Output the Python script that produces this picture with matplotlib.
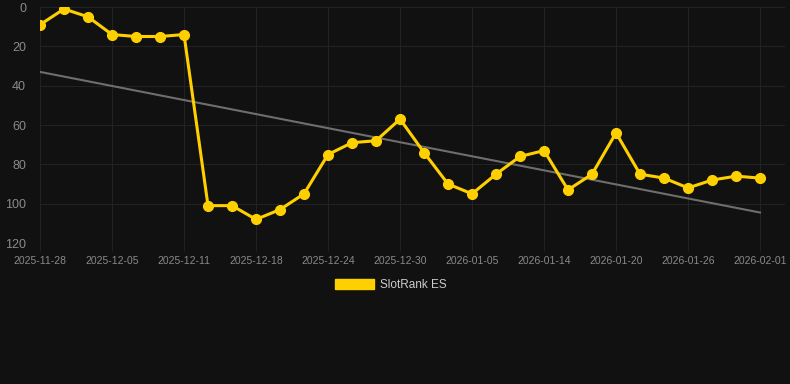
import matplotlib
matplotlib.use("Agg")
import matplotlib.pyplot as plt
from matplotlib.patches import Patch

plt.rcParams["font.family"] = ["Liberation Sans", "DejaVu Sans"]

# data
dates = [
    "2025-11-28", "2025-11-30", "2025-12-02", "2025-12-05", "2025-12-07",
    "2025-12-09", "2025-12-11", "2025-12-13", "2025-12-15", "2025-12-18",
    "2025-12-20", "2025-12-22", "2025-12-24", "2025-12-26", "2025-12-28",
    "2025-12-30", "2026-01-01", "2026-01-03", "2026-01-05", "2026-01-08",
    "2026-01-11", "2026-01-14", "2026-01-16", "2026-01-18", "2026-01-20",
    "2026-01-22", "2026-01-24", "2026-01-26", "2026-01-28", "2026-01-30",
    "2026-02-01",
]
rank = [9, 1, 5, 14, 15, 15, 14, 101, 101, 108, 103, 95, 75, 69, 68,
        57, 74, 90, 95, 85, 76, 73, 93, 85, 64, 85, 87, 92, 88, 86, 87]
trend_start = 33
trend_end = 104.5
yticks = [0, 20, 40, 60, 80, 100, 120]

bg = "#111111"
grid = "#222222"
yellow = "#FFD000"

fig = plt.figure(figsize=(7.9, 3.84), dpi=100, facecolor=bg)
ax = fig.add_axes([40 / 790, 1 - 243 / 384, 745 / 790, 236 / 384])
ax.set_facecolor(bg)

x = list(range(len(dates)))
ax.plot([x[0], x[-1]], [trend_start, trend_end], color="#6e6e6e", lw=1.5, zorder=2)
ax.plot(x, rank, color=yellow, lw=2.2, marker="o", markersize=7, zorder=3)

ax.set_ylim(120, 0)
ax.set_xlim(0, 31.04)
ax.set_yticks(yticks)
ax.set_xticks(x[::3])
ax.set_xticklabels(dates[::3])

ax.grid(True, color=grid, lw=0.8)
for s in ax.spines.values():
    s.set_visible(False)
ax.tick_params(axis="y", length=0, pad=10, labelsize=9, labelcolor="#8a8a8a")
ax.tick_params(axis="x", length=6, color=grid, pad=3, labelsize=7.5, labelcolor="#8a8a8a")

handle = Patch(facecolor=yellow, edgecolor=yellow)
fig.legend([handle], ["SlotRank ES"], loc="center", bbox_to_anchor=(0.495, 1 - 285 / 384),
           frameon=False, labelcolor="#cccccc", fontsize=8.5,
           handlelength=3.3, handleheight=1.0, handletextpad=0.5)

fig.savefig("out.png", dpi=100, facecolor=bg)
